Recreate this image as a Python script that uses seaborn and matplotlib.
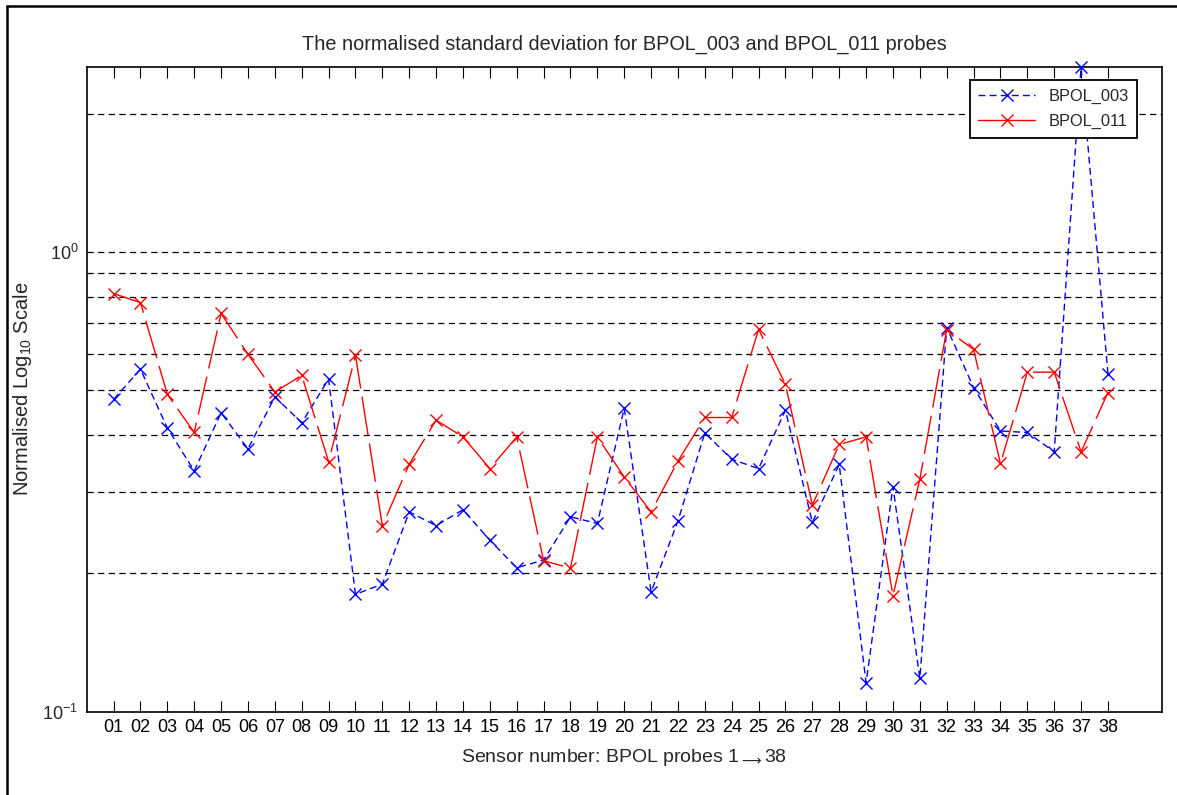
import numpy as np
import pandas as pd
import matplotlib
matplotlib.use("Agg")
import matplotlib.pyplot as plt
from matplotlib.lines import Line2D
import seaborn as sns

# Sensor numbers and the normalised standard deviation of each probe set
sensors = list(range(1, 39))
sensor_labels = [f"{n:02d}" for n in sensors]

bpol_003 = [0.478, 0.556, 0.414, 0.334, 0.447, 0.373, 0.484, 0.425, 0.529, 0.180,
            0.1895, 0.272, 0.254, 0.275, 0.236, 0.2056, 0.2137, 0.2654, 0.2567, 0.457,
            0.1823, 0.260, 0.4043, 0.354, 0.338, 0.4527, 0.258, 0.345, 0.1156, 0.3085,
            0.1182, 0.685, 0.507, 0.408, 0.4049, 0.3675, 2.52, 0.5438]

bpol_011 = [0.812, 0.776, 0.490, 0.405, 0.735, 0.599, 0.496, 0.539, 0.350, 0.596,
            0.2537, 0.3455, 0.4306, 0.396, 0.338, 0.396, 0.213, 0.2053, 0.396, 0.324,
            0.272, 0.351, 0.4365, 0.4365, 0.679, 0.515, 0.2814, 0.3814, 0.396, 0.1787,
            0.3205, 0.678, 0.6137, 0.3467, 0.5478, 0.5478, 0.3675, 0.4947]

# Horizontal reference levels on the log axis
grid_levels = [0.1, 0.2, 0.3, 0.4, 0.5, 0.6, 0.7, 0.8, 0.9, 1.0, 2.0]
labelled_levels = {0.1: r"$\mathregular{10^{-1}}$", 1.0: r"$\mathregular{10^{0}}$"}

sns.set_style("white")
plt.rcParams["font.family"] = ["Liberation Sans", "DejaVu Sans"]
plt.rcParams["mathtext.fontset"] = "custom"
plt.rcParams["mathtext.rm"] = "Liberation Sans"
plt.rcParams["mathtext.sf"] = "DejaVu Sans"

df = pd.DataFrame({"sensor": sensors, "BPOL_003": bpol_003, "BPOL_011": bpol_011})

fig = plt.figure(figsize=(11.77, 7.95), dpi=100)
ax = fig.add_axes([0.0737, 0.1048, 0.9133, 0.8113])

sns.lineplot(data=df, x="sensor", y="BPOL_003", ax=ax, color=(0, 0, 1),
             linestyle=(0, (5, 3)), linewidth=1.0, marker="x", markersize=8,
             markeredgewidth=1.0, markeredgecolor=(0, 0, 1), label="BPOL_003",
             estimator=None, sort=False, clip_on=False, zorder=3)
sns.lineplot(data=df, x="sensor", y="BPOL_011", ax=ax, color=(1, 0, 0),
             linestyle=(0, (28, 6)), linewidth=1.0, marker="x", markersize=8,
             markeredgewidth=1.0, markeredgecolor=(1, 0, 0), label="BPOL_011",
             estimator=None, sort=False, clip_on=False, zorder=4)

ax.set_yscale("log")
ax.set_xlim(0, 40)
ax.set_ylim(0.1, 2.53)

ax.set_xticks(sensors)
ax.set_xticklabels(sensor_labels, fontsize=13)
ax.tick_params(axis="x", direction="in", length=8, width=0.8, top=True,
               bottom=True, pad=5, colors="black")

ax.yaxis.set_minor_locator(matplotlib.ticker.NullLocator())
ax.set_yticks(grid_levels)
ax.set_yticklabels([labelled_levels.get(v, "") for v in grid_levels], fontsize=13)
ax.tick_params(axis="y", length=0, pad=6)
ax.yaxis.grid(True, color="black", linestyle=(0, (5, 3.5)), linewidth=0.9)
ax.xaxis.grid(False)
ax.set_axisbelow(True)

for s in ax.spines.values():
    s.set_color("black")
    s.set_linewidth(1.2)

ax.set_title("The normalised standard deviation for BPOL_003 and BPOL_011 probes",
             fontsize=14.3, pad=12)
ax.set_xlabel(r"Sensor number: BPOL probes 1$_{\mathsf{\longrightarrow}}$38",
              fontsize=14, labelpad=8)
ax.set_ylabel(r"Normalised Log$\mathregular{_{10}}$ Scale", fontsize=14.5, labelpad=6)

leg = ax.legend(loc="upper right", bbox_to_anchor=(0.977, 0.979), fontsize=11.8,
                frameon=True, fancybox=False, shadow=False, handlelength=3.5,
                borderpad=0.5, labelspacing=0.65, handletextpad=0.8,
                borderaxespad=0.0)
leg.get_frame().set_edgecolor("black")
leg.get_frame().set_linewidth(1.3)
leg.get_frame().set_facecolor("white")
leg.get_frame().set_alpha(1)
leg.set_zorder(10)
leg.get_lines()[1].set_linestyle("-")

# Outer frame of the figure (left and top edges)
fig.add_artist(Line2D([7 / 1177, 7 / 1177], [0, 1 - 6 / 795], color="black",
                      linewidth=1.8, transform=fig.transFigure))
fig.add_artist(Line2D([7 / 1177, 1], [1 - 6 / 795, 1 - 6 / 795], color="black",
                      linewidth=1.8, transform=fig.transFigure))

fig.savefig("out.png", dpi=100, facecolor="white")
